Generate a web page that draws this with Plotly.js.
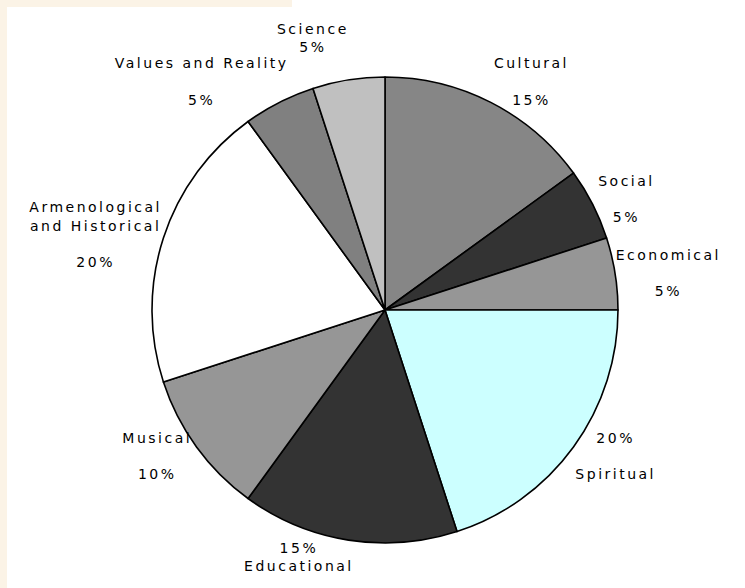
<!DOCTYPE html>
<html>
<head>
<meta charset="utf-8">
<script src="https://cdn.plot.ly/plotly-3.0.1.min.js"></script>
<style>
html,body{margin:0;padding:0;background:#ffffff;}
#chart{width:745px;height:588px;}
#chart .slicetext text, #chart text.slicetext {letter-spacing:2.5px;}
#chart path.textline {display:none;}
</style>
</head>
<body>
<div id="chart"></div>
<script>
const categories = ["Cultural", "Social", "Economical", "Spiritual", "Educational", "Musical", "Armenological<br>and Historical", "Values and Reality", "Science"];
const values = [15, 5, 5, 20, 15, 10, 20, 5, 5];
const sliceColors = ["#868686", "#333333", "#969696", "#ccffff", "#333333", "#969696", "#ffffff", "#808080", "#c0c0c0"];
const templates = [
  "%{label}<br><br>%{percent}",
  "%{label}<br><br>%{percent}",
  "%{label}<br><br>%{percent}",
  "%{percent}<br><br>%{label}",
  "%{percent}<br>%{label}",
  "%{label}<br><br>%{percent}",
  "%{label}<br><br>%{percent}",
  "%{label}<br><br>%{percent}",
  "%{label}<br>%{percent}"
];

const trace = {
  type: "pie",
  labels: categories,
  values: values,
  sort: false,
  direction: "clockwise",
  rotation: 0,
  marker: {colors: sliceColors, line: {color: "#000000", width: 1.6}},
  textposition: "outside",
  texttemplate: templates,
  textfont: {family: "DejaVu Sans, sans-serif", size: 14, color: "#000000"},
  domain: {x: [152/745, 618/745], y: [45/588, 511/588]},
  hoverinfo: "none",
  showlegend: false
};

const layout = {
  width: 745,
  height: 588,
  margin: {l: 0, r: 0, t: 0, b: 0},
  paper_bgcolor: "#ffffff",
  showlegend: false,
  shapes: [
    {type: "rect", xref: "paper", yref: "paper", x0: 0, x1: 292/745, y0: 1 - 7/588, y1: 1, fillcolor: "#fbf3e6", line: {width: 0}, layer: "below"},
    {type: "rect", xref: "paper", yref: "paper", x0: 0, x1: 7/745, y0: 0, y1: 1, fillcolor: "#fbf3e6", line: {width: 0}, layer: "below"}
  ]
};

Plotly.newPlot("chart", [trace], layout, {displayModeBar: false, staticPlot: true});
</script>
</body>
</html>
